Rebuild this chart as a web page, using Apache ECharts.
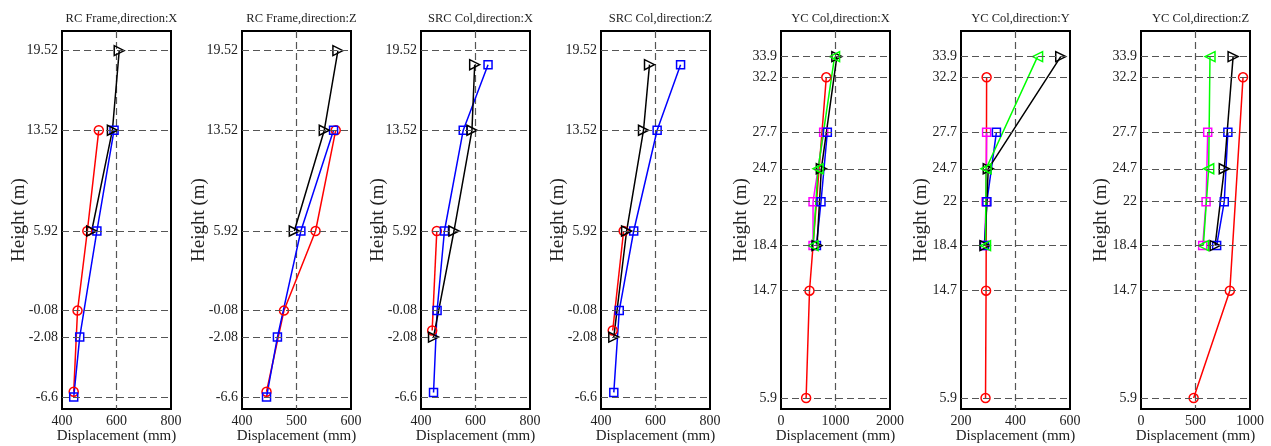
<!DOCTYPE html>
<html>
<head>
<meta charset="utf-8">
<script src="https://cdn.jsdelivr.net/npm/echarts@6/dist/echarts.min.js"></script>
<style>
  html, body { margin: 0; padding: 0; background: #fff; }
  #chart { width: 1271px; height: 446px; }
</style>
</head>
<body>
<div id="chart"></div>
<script>
// storey heights used as tick labels
const rcHeights = [19.52, 13.52, 5.92, -0.08, -2.08, -6.6];
const ycHeights = [33.9, 32.2, 27.7, 24.7, 22, 18.4, 14.7, 5.9];

const titles = ['RC Frame,direction:X', 'RC Frame,direction:Z', 'SRC Col,direction:X', 'SRC Col,direction:Z',
                'YC Col,direction:X', 'YC Col,direction:Y', 'YC Col,direction:Z'];

// x axis ranges [min, max, interval]
const xRanges = [[400, 800, 200], [400, 600, 100], [400, 800, 200], [400, 800, 200],
                 [0, 2000, 1000], [200, 600, 200], [0, 1000, 500]];

// [displacement mm, height m]
const rcxRed   = [[535, 13.52], [493, 5.92], [457, -0.08], [443, -6.2]];
const rcxBlue  = [[591, 13.52], [528, 5.92], [465, -2.08], [443, -6.6]];
const rcxBlack = [[610, 19.52], [585, 13.52], [509, 5.92]];

const rczRed   = [[572, 13.52], [535, 5.92], [477, -0.08], [445, -6.2]];
const rczBlue  = [[568, 13.52], [508, 5.92], [465, -2.08], [445, -6.6]];
const rczBlack = [[576, 19.52], [551, 13.52], [496, 5.92]];

const srcxRed   = [[458, 5.92], [441, -1.58]];
const srcxBlue  = [[646, 18.46], [555, 13.52], [486, 5.92], [459, -0.08], [446, -6.25]];
const srcxBlack = [[597, 18.46], [587, 13.52], [521, 5.92], [446, -2.08]];

const srczRed   = [[483, 5.92], [443, -1.58]];
const srczBlue  = [[692, 18.46], [606, 13.52], [520, 5.92], [467, -0.08], [447, -6.25]];
const srczBlack = [[578, 18.46], [556, 13.52], [494, 5.92], [447, -2.08]];

const ycxRed     = [[831, 32.2], [523, 14.7], [461, 5.9]];
const ycxMagenta = [[783, 27.7], [588, 22], [588, 18.4]];
const ycxBlue    = [[850, 27.7], [734, 22], [650, 18.4]];
const ycxBlack   = [[1025, 33.9], [740, 24.7], [661, 18.4]];
const ycxGreen   = [[983, 33.9], [680, 24.7], [588, 18.4]];

const ycyRed     = [[294, 32.2], [292, 14.7], [290, 5.9]];
const ycyMagenta = [[294, 27.7], [292, 22], [286, 18.4]];
const ycyBlue    = [[330, 27.7], [295, 22], [286, 18.4]];
const ycyBlack   = [[566, 33.9], [300, 24.7], [288, 18.4]];
const ycyGreen   = [[481, 33.9], [292, 24.7], [290, 18.4]];

const yczRed     = [[936, 32.2], [815, 14.7], [483, 5.9]];
const yczMagenta = [[612, 27.7], [597, 22], [566, 18.4]];
const yczBlue    = [[797, 27.7], [764, 22], [694, 18.4]];
const yczBlack   = [[845, 33.9], [764, 24.7], [680, 18.4]];
const yczGreen   = [[633, 33.9], [621, 24.7], [572, 18.4]];

const panelSeries = [
  { red: rcxRed, blue: rcxBlue, black: rcxBlack },
  { red: rczRed, blue: rczBlue, black: rczBlack },
  { red: srcxRed, blue: srcxBlue, black: srcxBlack },
  { red: srczRed, blue: srczBlue, black: srczBlack },
  { red: ycxRed, magenta: ycxMagenta, blue: ycxBlue, black: ycxBlack, green: ycxGreen },
  { red: ycyRed, magenta: ycyMagenta, blue: ycyBlue, black: ycyBlack, green: ycyGreen },
  { red: yczRed, magenta: yczMagenta, blue: yczBlue, black: yczBlack, green: yczGreen }
];

const styles = {
  red:     { color: '#ff0000', symbol: 'circle', size: 9, rotate: 0 },
  magenta: { color: '#ff00ff', symbol: 'rect', size: 8, rotate: 0 },
  blue:    { color: '#0000ff', symbol: 'rect', size: 8, rotate: 0 },
  black:   { color: '#000000', symbol: 'triangle', size: 10, rotate: -90 },
  green:   { color: '#00ff00', symbol: 'triangle', size: 10, rotate: 90 }
};

const lefts = [62, 242, 421, 601, 781, 961, 1141];
const font = 'Liberation Serif, Times New Roman, serif';

const chart = echarts.init(document.getElementById('chart'));

const grid = [], xAxis = [], yAxis = [], title = [], series = [];

lefts.forEach((left, i) => {
  const isYC = i >= 4;
  const ticks = isYC ? ycHeights : rcHeights;
  grid.push({
    left: left, top: 31, width: 109, height: 378, outerBoundsMode: 'none',
    show: true, borderColor: '#000', borderWidth: 2, backgroundColor: 'transparent'
  });
  title.push({
    text: titles[i], left: left + 54.5, top: 7, textAlign: 'center',
    textStyle: { fontFamily: font, fontSize: 12.5, fontWeight: 'normal', color: '#222' }
  });
  xAxis.push({
    type: 'value', gridIndex: i,
    min: xRanges[i][0], max: xRanges[i][1], interval: xRanges[i][2],
    name: 'Displacement (mm)', nameLocation: 'middle', nameGap: 20, nameMoveOverlap: false,
    nameTextStyle: { fontFamily: font, fontSize: 15, color: '#222' },
    axisLine: { show: false }, axisTick: { show: false },
    axisLabel: {
      fontFamily: font, fontSize: 14, color: '#222', margin: 5,
      showMinLabel: true, showMaxLabel: true, formatter: v => String(v)
    },
    splitLine: { show: true, showMinLine: false, showMaxLine: false, lineStyle: { color: '#555', type: [7, 4], width: 1.2 } }
  });
  yAxis.push({
    type: 'value', gridIndex: i,
    min: isYC ? 5 : -7.5, max: isYC ? 36 : 21,
    name: 'Height (m)', nameLocation: 'middle', nameGap: isYC ? 30 : 33, nameMoveOverlap: false,
    nameTextStyle: { fontFamily: font, fontSize: 19, color: '#222' },
    axisLine: { show: false },
    axisTick: { show: false, customValues: ticks },
    axisLabel: { fontFamily: font, fontSize: 14, color: '#222', margin: 4, customValues: ticks },
    splitLine: { show: false }
  });
  // horizontal dashed lines at storey heights
  series.push({
    type: 'line', xAxisIndex: i, yAxisIndex: i, data: [], silent: true,
    markLine: {
      silent: true, symbol: 'none', animation: false, label: { show: false },
      lineStyle: { color: '#555', type: [7, 4], width: 1.2 },
      data: ticks.map(v => ({ yAxis: v }))
    }
  });
  Object.keys(panelSeries[i]).forEach(key => {
    const s = styles[key];
    series.push({
      type: 'line', xAxisIndex: i, yAxisIndex: i,
      data: panelSeries[i][key],
      symbol: s.symbol, symbolSize: s.size, symbolRotate: s.rotate,
      showAllSymbol: true, animation: false,
      lineStyle: { color: s.color, width: 1.5 },
      itemStyle: { color: 'rgba(0,0,0,0)', borderColor: s.color, borderWidth: 1.5 }
    });
  });
});

chart.setOption({ animation: false, title, grid, xAxis, yAxis, series });
window.addEventListener('resize', () => chart.resize());
</script>
</body>
</html>
